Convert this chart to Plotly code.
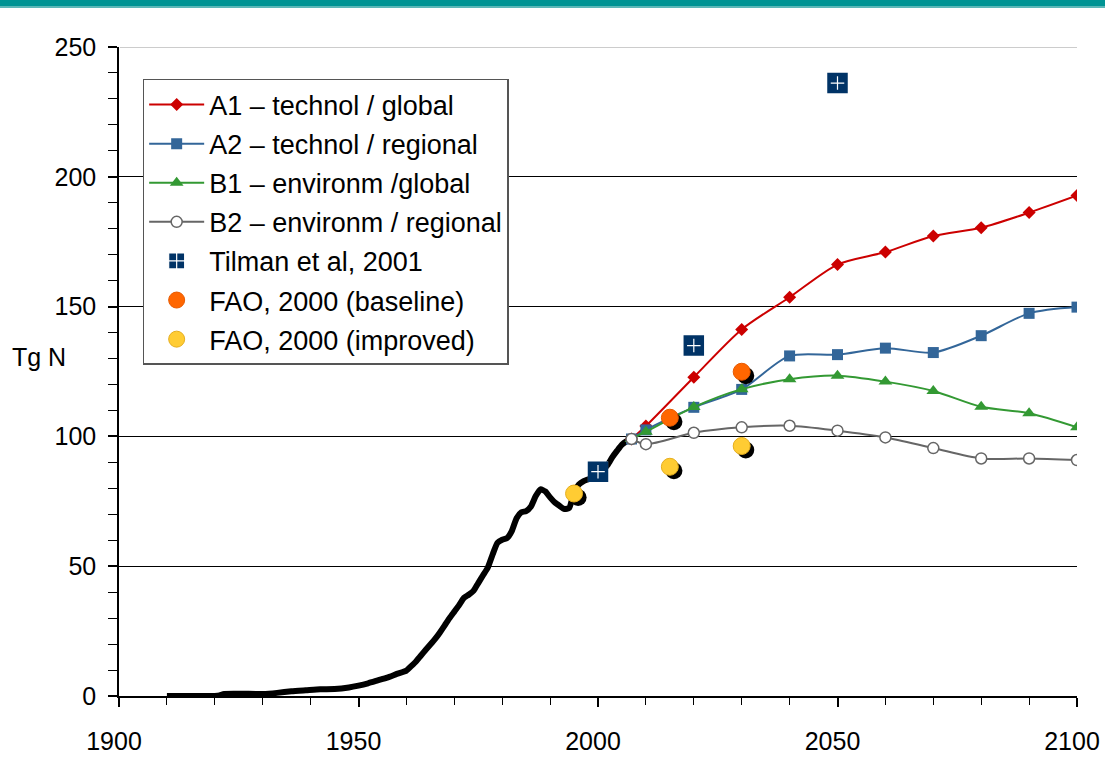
import plotly.graph_objects as go

# ---------------- data ----------------
hist_years = [1910, 1920, 1921, 1922, 1930, 1933, 1936, 1939, 1942, 1945, 1948, 1950,
              1952, 1954, 1956, 1958, 1960, 1961, 1962, 1963, 1964, 1965, 1966, 1967,
              1968, 1969, 1970, 1971, 1972, 1973, 1974, 1975, 1976, 1977, 1978, 1979,
              1980, 1981, 1982, 1983, 1984, 1985, 1986, 1987, 1988, 1989, 1990, 1991,
              1992, 1993, 1994, 1995, 1996, 1997, 1998, 1999, 2000, 2001, 2002, 2003,
              2004, 2005, 2006, 2007]
hist_values = [0, 0, 0.2, 0.8, 0.8, 1.2, 1.8, 2.2, 2.6, 2.7, 3.3, 4.0,
               4.9, 6.0, 7.1, 8.5, 9.8, 11.5, 13.3, 15.5, 17.7, 19.8, 22.0, 24.5,
               27.2, 30.0, 32.5, 35.0, 37.8, 39.0, 40.5, 43.5, 46.5, 49.5, 54.5, 59.0,
               60.2, 60.8, 63.5, 68.5, 70.8, 71.2, 73.0, 77.0, 79.6, 78.8, 76.5, 74.5,
               73.2, 72.0, 72.5, 78.5, 81.5, 82.8, 83.5, 84.3, 86.0, 87.0, 89.0, 92.0,
               94.5, 96.8, 98.2, 99.0]

scen_years = [2007, 2010, 2020, 2030, 2040, 2050, 2060, 2070, 2080, 2090, 2100]
a1_values = [99.0, 104.0, 122.8, 141.2, 153.6, 166.2, 171.0, 177.2, 180.4, 186.2, 192.8]
a2_values = [99.0, 102.5, 111.2, 118.1, 131.0, 131.5, 134.0, 132.3, 138.8, 147.4, 149.8]
b1_values = [99.0, 101.8, 111.3, 118.2, 122.0, 123.4, 121.1, 117.5, 111.4, 108.9, 103.5]
b2_values = [99.0, 97.0, 101.4, 103.5, 104.1, 102.2, 99.6, 95.5, 91.5, 91.5, 90.9]

tilman_years = [2000, 2020, 2050]
tilman_values = [86.4, 135.0, 236.1]

fao_base_years = [2015, 2030]
fao_base_values = [107.2, 124.9]

fao_impr_years = [1995, 2015, 2030]
fao_impr_values = [78.0, 88.3, 96.3]

x_tick_vals = [1900, 1950, 2000, 2050, 2100]
x_tick_text = ["1900", "1950", "2000", "2050", "2100"]
y_tick_vals = [0, 50, 100, 150, 200, 250]

# ---------------- styling ----------------
FONT = "Arial, Liberation Sans, sans-serif"
SHADOW_DX = 0.85   # years  (~4 px)
SHADOW_DY = 1.55   # Tg N   (~4 px)

fig = go.Figure()

# historical curve
fig.add_trace(go.Scatter(
    x=hist_years, y=hist_values, mode="lines", showlegend=False,
    line=dict(color="black", width=6, shape="spline", smoothing=0.5),
    hoverinfo="skip"))

def scen(name, vals, color, symbol, size, rank, mfill=None, mline=None):
    fig.add_trace(go.Scatter(
        x=scen_years, y=vals, name=name, mode="lines+markers",
        legendgroup=name, legendrank=rank,
        line=dict(color=color, width=2, shape="spline", smoothing=0.8),
        marker=dict(symbol=symbol, size=size, color=mfill or color,
                    line=dict(color=mline or color, width=1.5 if mline else 0))))

scen("A1 \u2013 technol / global", a1_values, "#CC0000", "diamond", 10, 1)
scen("A2 \u2013 technol / regional", a2_values, "#336699", "square", 11, 2)
scen("B1 \u2013 environm /global", b1_values, "#339933", "triangle-up", 12, 3)
scen("B2 \u2013 environm / regional", b2_values, "#666666", "circle", 11, 4,
     mfill="white", mline="#666666")

# Tilman: navy square with white plus
fig.add_trace(go.Scatter(
    x=tilman_years, y=tilman_values, name="Tilman et al, 2001", mode="markers",
    legendgroup="tilman", legendrank=5,
    marker=dict(symbol="square-cross", size=19, color="#003366",
                line=dict(color="white", width=1.2))))
fig.add_trace(go.Scatter(
    x=tilman_years, y=tilman_values, mode="markers", showlegend=False,
    legendgroup="tilman", hoverinfo="skip",
    marker=dict(symbol="square-open", size=17, color="#003366",
                line=dict(color="#003366", width=3.5))))

# FAO shadows
fig.add_trace(go.Scatter(
    x=[v + SHADOW_DX for v in fao_base_years + fao_impr_years],
    y=[v - SHADOW_DY for v in fao_base_values + fao_impr_values],
    mode="markers", showlegend=False, hoverinfo="skip",
    marker=dict(symbol="circle", size=17, color="black")))

fig.add_trace(go.Scatter(
    x=fao_base_years, y=fao_base_values, name="FAO, 2000 (baseline)", mode="markers",
    legendgroup="faob", legendrank=6,
    marker=dict(symbol="circle", size=17, color="#FF6600",
                line=dict(color="#E85A00", width=1))))
fig.add_trace(go.Scatter(
    x=fao_impr_years, y=fao_impr_values, name="FAO, 2000 (improved)", mode="markers",
    legendgroup="faoi", legendrank=7,
    marker=dict(symbol="circle", size=17, color="#FFCC33",
                line=dict(color="#E6AE1E", width=1))))

fig.update_layout(
    width=1105, height=774,
    margin=dict(l=119, r=28, t=47, b=78, autoexpand=False),
    paper_bgcolor="white", plot_bgcolor="white",
    font=dict(family=FONT, size=25, color="black"),
    showlegend=True,
    legend=dict(
        x=0.0247, y=0.9507, xanchor="left", yanchor="top",
        bgcolor="white", bordercolor="#555555", borderwidth=1.5,
        font=dict(family=FONT, size=27, color="black"),
        traceorder="grouped", tracegroupgap=1, itemwidth=55),
    xaxis=dict(
        range=[1900, 2100], tickvals=x_tick_vals, ticktext=x_tick_text,
        ticklabeloverflow="allow", ticklabelshift=-5,
        showgrid=False, zeroline=False, automargin=False,
        showline=True, linecolor="black", linewidth=1.5,
        ticks="outside", ticklen=9, tickcolor="black", tickwidth=1.5,
        ticklabelstandoff=13,
        minor=dict(dtick=10, ticks="outside", ticklen=7, tickcolor="black",
                   tickwidth=1.2, showgrid=False)),
    yaxis=dict(
        range=[0, 250], tickvals=y_tick_vals, showgrid=True, gridcolor="black",
        gridwidth=1.2, zeroline=False, automargin=False,
        showline=True, linecolor="black", linewidth=1.5,
        ticks="outside", ticklen=9, tickcolor="black", tickwidth=1.5,
        ticklabelstandoff=7,
        minor=dict(dtick=10, ticks="outside", ticklen=9, tickcolor="black",
                   tickwidth=1.2, showgrid=False)),
    annotations=[dict(text="Tg N", xref="paper", yref="paper", x=-0.1138, y=0.522,
                      xanchor="left", yanchor="middle", showarrow=False,
                      font=dict(family=FONT, size=25, color="black"))],
    shapes=[
        # light top gridline at 250
        dict(type="line", xref="paper", yref="y", x0=0.001, x1=1, y0=250, y1=250,
             line=dict(color="#BBBBBB", width=1.5), layer="above"),
        # teal banner
        dict(type="rect", xref="paper", yref="paper", x0=-0.13, x1=1.04,
             y0=1.0632, y1=1.09, fillcolor="#009494", line=dict(width=0)),
        dict(type="rect", xref="paper", yref="paper", x0=-0.13, x1=1.04,
             y0=1.0602, y1=1.0632, fillcolor="#5CB8B8", line=dict(width=0)),
    ],
)

fig.write_html("out.html",
               config={"displayModeBar": False},
               post_script="document.body.style.margin='0';document.body.style.overflow='hidden';")
